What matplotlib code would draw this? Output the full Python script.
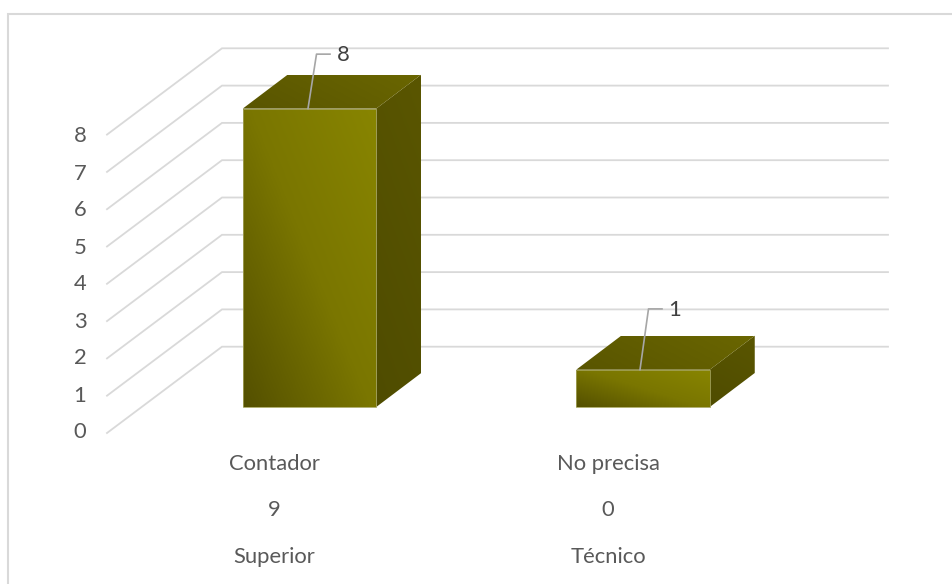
import numpy as np
import matplotlib
matplotlib.use('Agg')
import matplotlib.pyplot as plt
from matplotlib.patches import Polygon, Rectangle
from matplotlib.colors import LinearSegmentedColormap

values = [8, 1]
positions = [0, 1]
cat_level1 = ['Contador', 'No precisa']
cat_level2 = ['9', '0']
cat_level3 = ['Superior', 'Técnico']
y_ticks = [0, 1, 2, 3, 4, 5, 6, 7, 8]

PX_X = 333.5   # pixels per category
PX_Y = 37.3    # pixels per value unit
X0 = 309.5     # pixel of first bar centre
Y0 = 407.0     # pixel of value 0 at the bar front
W, H = 952, 584

BAR_W = 133.5 / PX_X
DEPTH_X = 45 / PX_X
DEPTH_Y = 34 / PX_Y

# leader line rise above each bar, and shift of its foot from the bar centre
LEADER_RISE = (1.46, 1.63)
LEADER_FOOT = (-1.5, -3.0)

plt.rcParams['font.family'] = ['Lato', 'DejaVu Sans']
GRAY = '#595959'
GRID = '#d9d9d9'
FONT = 15.8


def px_x(p):
    return (p - X0) / PX_X


def px_y(p):
    return (Y0 - p) / PX_Y


def shaded(ax, pts, colors, angle=0.0):
    """Fill polygon pts with a linear gradient running along angle (degrees)."""
    pts = np.array(pts)
    x0, x1 = pts[:, 0].min(), pts[:, 0].max()
    y0, y1 = pts[:, 1].min(), pts[:, 1].max()
    u, v = np.meshgrid(np.linspace(0, 1, 64), np.linspace(0, 1, 64))
    a = np.radians(angle)
    g = u * np.cos(a) + v * np.sin(a)
    g = (g - g.min()) / (g.max() - g.min())
    cmap = LinearSegmentedColormap.from_list('face', colors)
    im = ax.imshow(g, extent=(x0, x1, y0, y1), origin='lower', cmap=cmap,
                   aspect='auto', zorder=3, interpolation='bilinear')
    patch = Polygon(pts, closed=True, transform=ax.transData, fc='none', ec='none')
    ax.add_patch(patch)
    im.set_clip_path(patch)


fig = plt.figure(figsize=(W / 100, H / 100), dpi=100)
ax = fig.add_axes([0, 0, 1, 1])
ax.axis('off')

# chart frame, only top and left fall inside the crop
ax.plot([px_x(8), px_x(8), px_x(W + 5)], [px_y(H + 5), px_y(14), px_y(14)],
        color=GRID, lw=1.5, zorder=0, solid_joinstyle='miter')

# wall and floor gridlines
left_x, back_x, right_x = px_x(107), px_x(222), px_x(888)
front_off, back_off = px_y(433), px_y(346.7)
for v in y_ticks:
    ax.plot([left_x, back_x, right_x],
            [v + front_off, v + back_off, v + back_off],
            color=GRID, lw=1.3, zorder=1, solid_joinstyle='miter')
    ax.text(px_x(80), v * 37.0 / PX_Y + px_y(432.5), str(v), ha='center', va='center',
            fontsize=FONT, color=GRAY)

# bars
for pos, val in zip(positions, values):
    l, r = pos - BAR_W / 2, pos + BAR_W / 2
    shaded(ax, [(r, 0), (r + DEPTH_X, DEPTH_Y), (r + DEPTH_X, val + DEPTH_Y), (r, val)],
           ['#4f4c00', '#5a5600'], 70)
    shaded(ax, [(l, val), (l + DEPTH_X, val + DEPTH_Y), (r + DEPTH_X, val + DEPTH_Y), (r, val)],
           ['#595500', '#6a6600'], 20)
    shaded(ax, [(l, 0), (r, 0), (r, val), (l, val)],
           ['#545000', '#7a7600', '#888500'], 42)
    ax.add_patch(Rectangle((l, 0), BAR_W, val, fc='none', ec='#a3a25a', lw=0.6, zorder=4))

# data labels with leader lines
for pos, val, rise, foot in zip(positions, values, LEADER_RISE, LEADER_FOOT):
    tip = pos + foot / PX_X
    ax.plot([tip, tip + 8.5 / PX_X, tip + 22 / PX_X],
            [val, val + rise, val + rise], color='#a6a6a6', lw=1.2, zorder=5)
    ax.text(tip + 35 / PX_X, val + rise - 0.03, str(val), ha='center', va='center',
            fontsize=FONT, color='#404040', zorder=6)

# three level category labels
for pos, a, b, c in zip(positions, cat_level1, cat_level2, cat_level3):
    x = pos - 35 / PX_X
    ax.text(x, px_y(464.5), a, ha='center', va='center', fontsize=FONT, color=GRAY)
    ax.text(x, px_y(510.5), b, ha='center', va='center', fontsize=FONT, color=GRAY)
    ax.text(x, px_y(557), c, ha='center', va='center', fontsize=FONT, color=GRAY)

ax.set_xlim(px_x(0), px_x(W))
ax.set_ylim(px_y(H), px_y(0))

fig.savefig('out.png', dpi=100)
